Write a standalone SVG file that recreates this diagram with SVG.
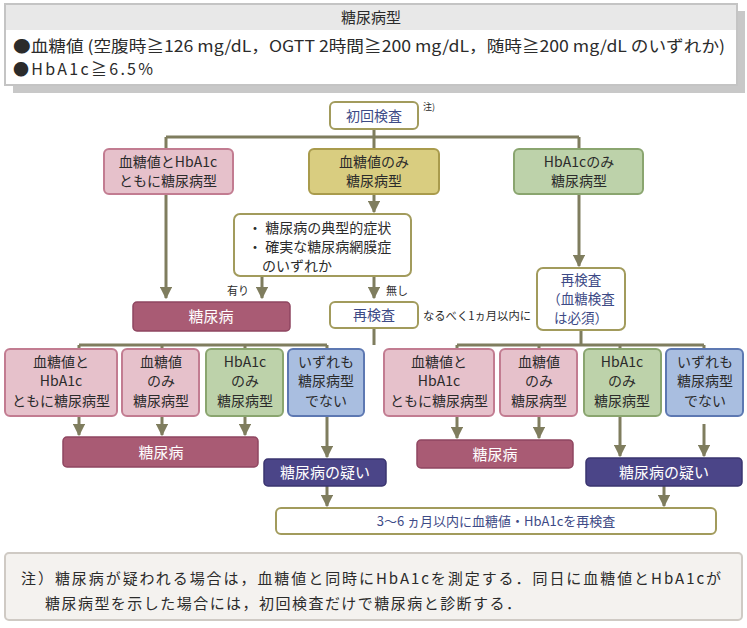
<svg xmlns="http://www.w3.org/2000/svg" width="747" height="628" viewBox="0 0 747 628">
<defs>
<style>
text{font-family:"Noto Sans CJK JP","Noto Sans",sans-serif;fill:#2b2b2b;}
.t{font-size:14px;text-anchor:middle;}
.w{fill:#fff;}
.b{fill:#3d4a86;}
.line{stroke:#7f7d5e;stroke-width:3;fill:none;}
.pink{fill:#e6c1cb;stroke:#c27c91;stroke-width:2;}
.yel{fill:#d9cd80;stroke:#a99b4c;stroke-width:2;}
.grn{fill:#bdd2aa;stroke:#8aa56f;stroke-width:2;}
.blu{fill:#a9bee0;stroke:#5d78b2;stroke-width:2;}
.dp{fill:#a95b74;stroke:#8f4660;stroke-width:1.5;}
.dv{fill:#4b4588;stroke:#3a346f;stroke-width:1.5;}
.wb{fill:#fff;stroke:#a29b5c;stroke-width:2;}
</style>
<marker id="ah" viewBox="0 0 10 10" refX="9" refY="5" markerWidth="4.2" markerHeight="4.2" orient="auto" markerUnits="strokeWidth">
<path d="M0,0 L10,5 L0,10 z" fill="#7f7d5e"/>
</marker>
</defs>

<g id="criteria-box">
<rect x="13" y="11" width="732" height="82" fill="#c8c8c8"/>
<rect x="5" y="4" width="732" height="81" fill="#fff" stroke="#c4c4c4" stroke-width="2"/>
<rect x="6" y="5" width="730" height="25" fill="#e8e8e8"/>
<text x="371" y="23" class="t" style="font-size:15px">糖尿病型</text>
<text x="13" y="52" style="font-size:16px" textLength="712" lengthAdjust="spacingAndGlyphs">●血糖値 (空腹時≧126 mg/dL，OGTT 2時間≧200 mg/dL，随時≧200 mg/dL のいずれか)</text>
<text x="13" y="75" style="font-size:16px" textLength="140" lengthAdjust="spacing">●HbA1c≧6.5%</text>
</g>

<g id="connectors">
<path class="line" d="M374,129 V137 M166,137 H579 M166,137 V149 M374,137 V149 M579,137 V149"/>
<path class="line" d="M166,194 V298" marker-end="url(#ah)"/>
<path class="line" d="M374,194 V212" marker-end="url(#ah)"/>
<path class="line" d="M579,194 V266" marker-end="url(#ah)"/>
<path class="line" d="M262,276 V298" marker-end="url(#ah)"/>
<path class="line" d="M374,276 V298" marker-end="url(#ah)"/>
<path class="line" d="M374,328 V345 M79,345 H327 M79,345 V349 M162,345 V349 M245,345 V349 M327,345 V349"/>
<path class="line" d="M581,330 V345 M457,345 H704 M457,345 V349 M539,345 V349 M620,345 V349 M704,345 V349"/>
<path class="line" d="M79,416 V435" marker-end="url(#ah)"/>
<path class="line" d="M162,416 V435" marker-end="url(#ah)"/>
<path class="line" d="M245,416 V435" marker-end="url(#ah)"/>
<path class="line" d="M327,416 V457" marker-end="url(#ah)"/>
<path class="line" d="M457,416 V438" marker-end="url(#ah)"/>
<path class="line" d="M539,416 V438" marker-end="url(#ah)"/>
<path class="line" d="M620,416 V456" marker-end="url(#ah)"/>
<path class="line" d="M704,424 V456" marker-end="url(#ah)"/>
<path class="line" d="M327,486 V506" marker-end="url(#ah)"/>
<path class="line" d="M664,486 V506" marker-end="url(#ah)"/>
</g>

<g id="initial">
<rect x="330" y="102" width="88" height="27" rx="5" class="wb"/>
<text x="374" y="121" class="t b">初回検査</text>
<text x="423" y="110" style="font-size:9px">注)</text>
</g>

<g id="both">
<rect x="104" y="149" width="129" height="45" rx="5" class="pink"/>
<text x="168" y="167" class="t">血糖値とHbA1c</text>
<text x="168" y="186" class="t">ともに糖尿病型</text>
</g>
<g id="bg-only">
<rect x="309" y="149" width="130" height="45" rx="5" class="yel"/>
<text x="374" y="167" class="t">血糖値のみ</text>
<text x="374" y="186" class="t">糖尿病型</text>
</g>
<g id="a1c-only">
<rect x="514" y="149" width="129" height="45" rx="5" class="grn"/>
<text x="579" y="167" class="t">HbA1cのみ</text>
<text x="579" y="186" class="t">糖尿病型</text>
</g>

<g id="symptoms">
<rect x="234" y="214" width="177" height="62" rx="6" class="wb"/>
<text x="248" y="233" style="font-size:14px">・ 糖尿病の典型的症状</text>
<text x="248" y="252" style="font-size:14px">・ 確実な糖尿病網膜症</text>
<text x="262" y="271" style="font-size:14px">のいずれか</text>
</g>
<text x="227" y="295" style="font-size:11px">有り</text>
<text x="386" y="295" style="font-size:11px">無し</text>

<g id="dm-top">
<rect x="133" y="302" width="157" height="29" rx="4" class="dp"/>
<text x="211" y="322" class="t w" style="font-size:15px">糖尿病</text>
</g>

<g id="retest-left">
<rect x="330" y="302" width="88" height="26" rx="5" class="wb"/>
<text x="374" y="320" class="t b">再検査</text>
</g>
<text x="423" y="320" style="font-size:11.5px" textLength="108" lengthAdjust="spacingAndGlyphs">なるべく1ヵ月以内に</text>

<g id="retest-right">
<rect x="537" y="268" width="88" height="62" rx="6" class="wb"/>
<text x="581" y="285" class="t b" style="font-size:13.5px">再検査</text>
<text x="581" y="304" class="t b" style="font-size:13.5px">（血糖検査</text>
<text x="581" y="323" class="t b" style="font-size:13.5px">は必須）</text>
</g>

<g id="l-both">
<rect x="5" y="349" width="112" height="67" rx="5" class="pink"/>
<text x="61" y="367" class="t">血糖値と</text>
<text x="61" y="386" class="t">HbA1c</text>
<text x="61" y="406" class="t">ともに糖尿病型</text>
</g>
<g id="l-bg">
<rect x="122" y="349" width="77" height="67" rx="5" class="pink"/>
<text x="161" y="367" class="t">血糖値</text>
<text x="161" y="386" class="t">のみ</text>
<text x="161" y="406" class="t">糖尿病型</text>
</g>
<g id="l-a1c">
<rect x="206" y="349" width="77" height="67" rx="5" class="grn"/>
<text x="245" y="367" class="t">HbA1c</text>
<text x="245" y="386" class="t">のみ</text>
<text x="245" y="406" class="t">糖尿病型</text>
</g>
<g id="l-none">
<rect x="288" y="349" width="76" height="67" rx="5" class="blu"/>
<text x="326" y="367" class="t">いずれも</text>
<text x="326" y="386" class="t">糖尿病型</text>
<text x="326" y="406" class="t">でない</text>
</g>

<g id="r-both">
<rect x="384" y="349" width="110" height="67" rx="5" class="pink"/>
<text x="439" y="367" class="t">血糖値と</text>
<text x="439" y="386" class="t">HbA1c</text>
<text x="439" y="406" class="t">ともに糖尿病型</text>
</g>
<g id="r-bg">
<rect x="500" y="349" width="77" height="67" rx="5" class="pink"/>
<text x="539" y="367" class="t">血糖値</text>
<text x="539" y="386" class="t">のみ</text>
<text x="539" y="406" class="t">糖尿病型</text>
</g>
<g id="r-a1c">
<rect x="584" y="349" width="77" height="67" rx="5" class="grn"/>
<text x="622" y="367" class="t">HbA1c</text>
<text x="622" y="386" class="t">のみ</text>
<text x="622" y="406" class="t">糖尿病型</text>
</g>
<g id="r-none">
<rect x="666" y="349" width="77" height="67" rx="5" class="blu"/>
<text x="705" y="367" class="t">いずれも</text>
<text x="705" y="386" class="t">糖尿病型</text>
<text x="705" y="406" class="t">でない</text>
</g>

<g id="dm-left">
<rect x="63" y="437" width="195" height="30" rx="4" class="dp"/>
<text x="161" y="458" class="t w" style="font-size:15px">糖尿病</text>
</g>
<g id="suspect-left">
<rect x="264" y="459" width="122" height="27" rx="4" class="dv"/>
<text x="325" y="478" class="t w" style="font-size:15px">糖尿病の疑い</text>
</g>
<g id="dm-right">
<rect x="417" y="440" width="156" height="28" rx="4" class="dp"/>
<text x="495" y="460" class="t w" style="font-size:15px">糖尿病</text>
</g>
<g id="suspect-right">
<rect x="586" y="458" width="156" height="28" rx="4" class="dv"/>
<text x="664" y="478" class="t w" style="font-size:15px">糖尿病の疑い</text>
</g>

<g id="recheck-3-6">
<rect x="276" y="508" width="440" height="26" rx="5" class="wb"/>
<text x="496" y="526" class="t b" style="font-size:13px">3〜6 ヵ月以内に血糖値・HbA1cを再検査</text>
</g>

<g id="note">
<rect x="5" y="553" width="737" height="67" rx="4" fill="#f4f2ef" stroke="#cfcac4" stroke-width="2"/>
<text x="21" y="584" style="font-size:15px" textLength="700" lengthAdjust="spacing">注）糖尿病が疑われる場合は，血糖値と同時にHbA1cを測定する．同日に血糖値とHbA1cが</text>
<text x="45" y="609" style="font-size:15px" textLength="476" lengthAdjust="spacing">糖尿病型を示した場合には，初回検査だけで糖尿病と診断する．</text>
</g>
</svg>
